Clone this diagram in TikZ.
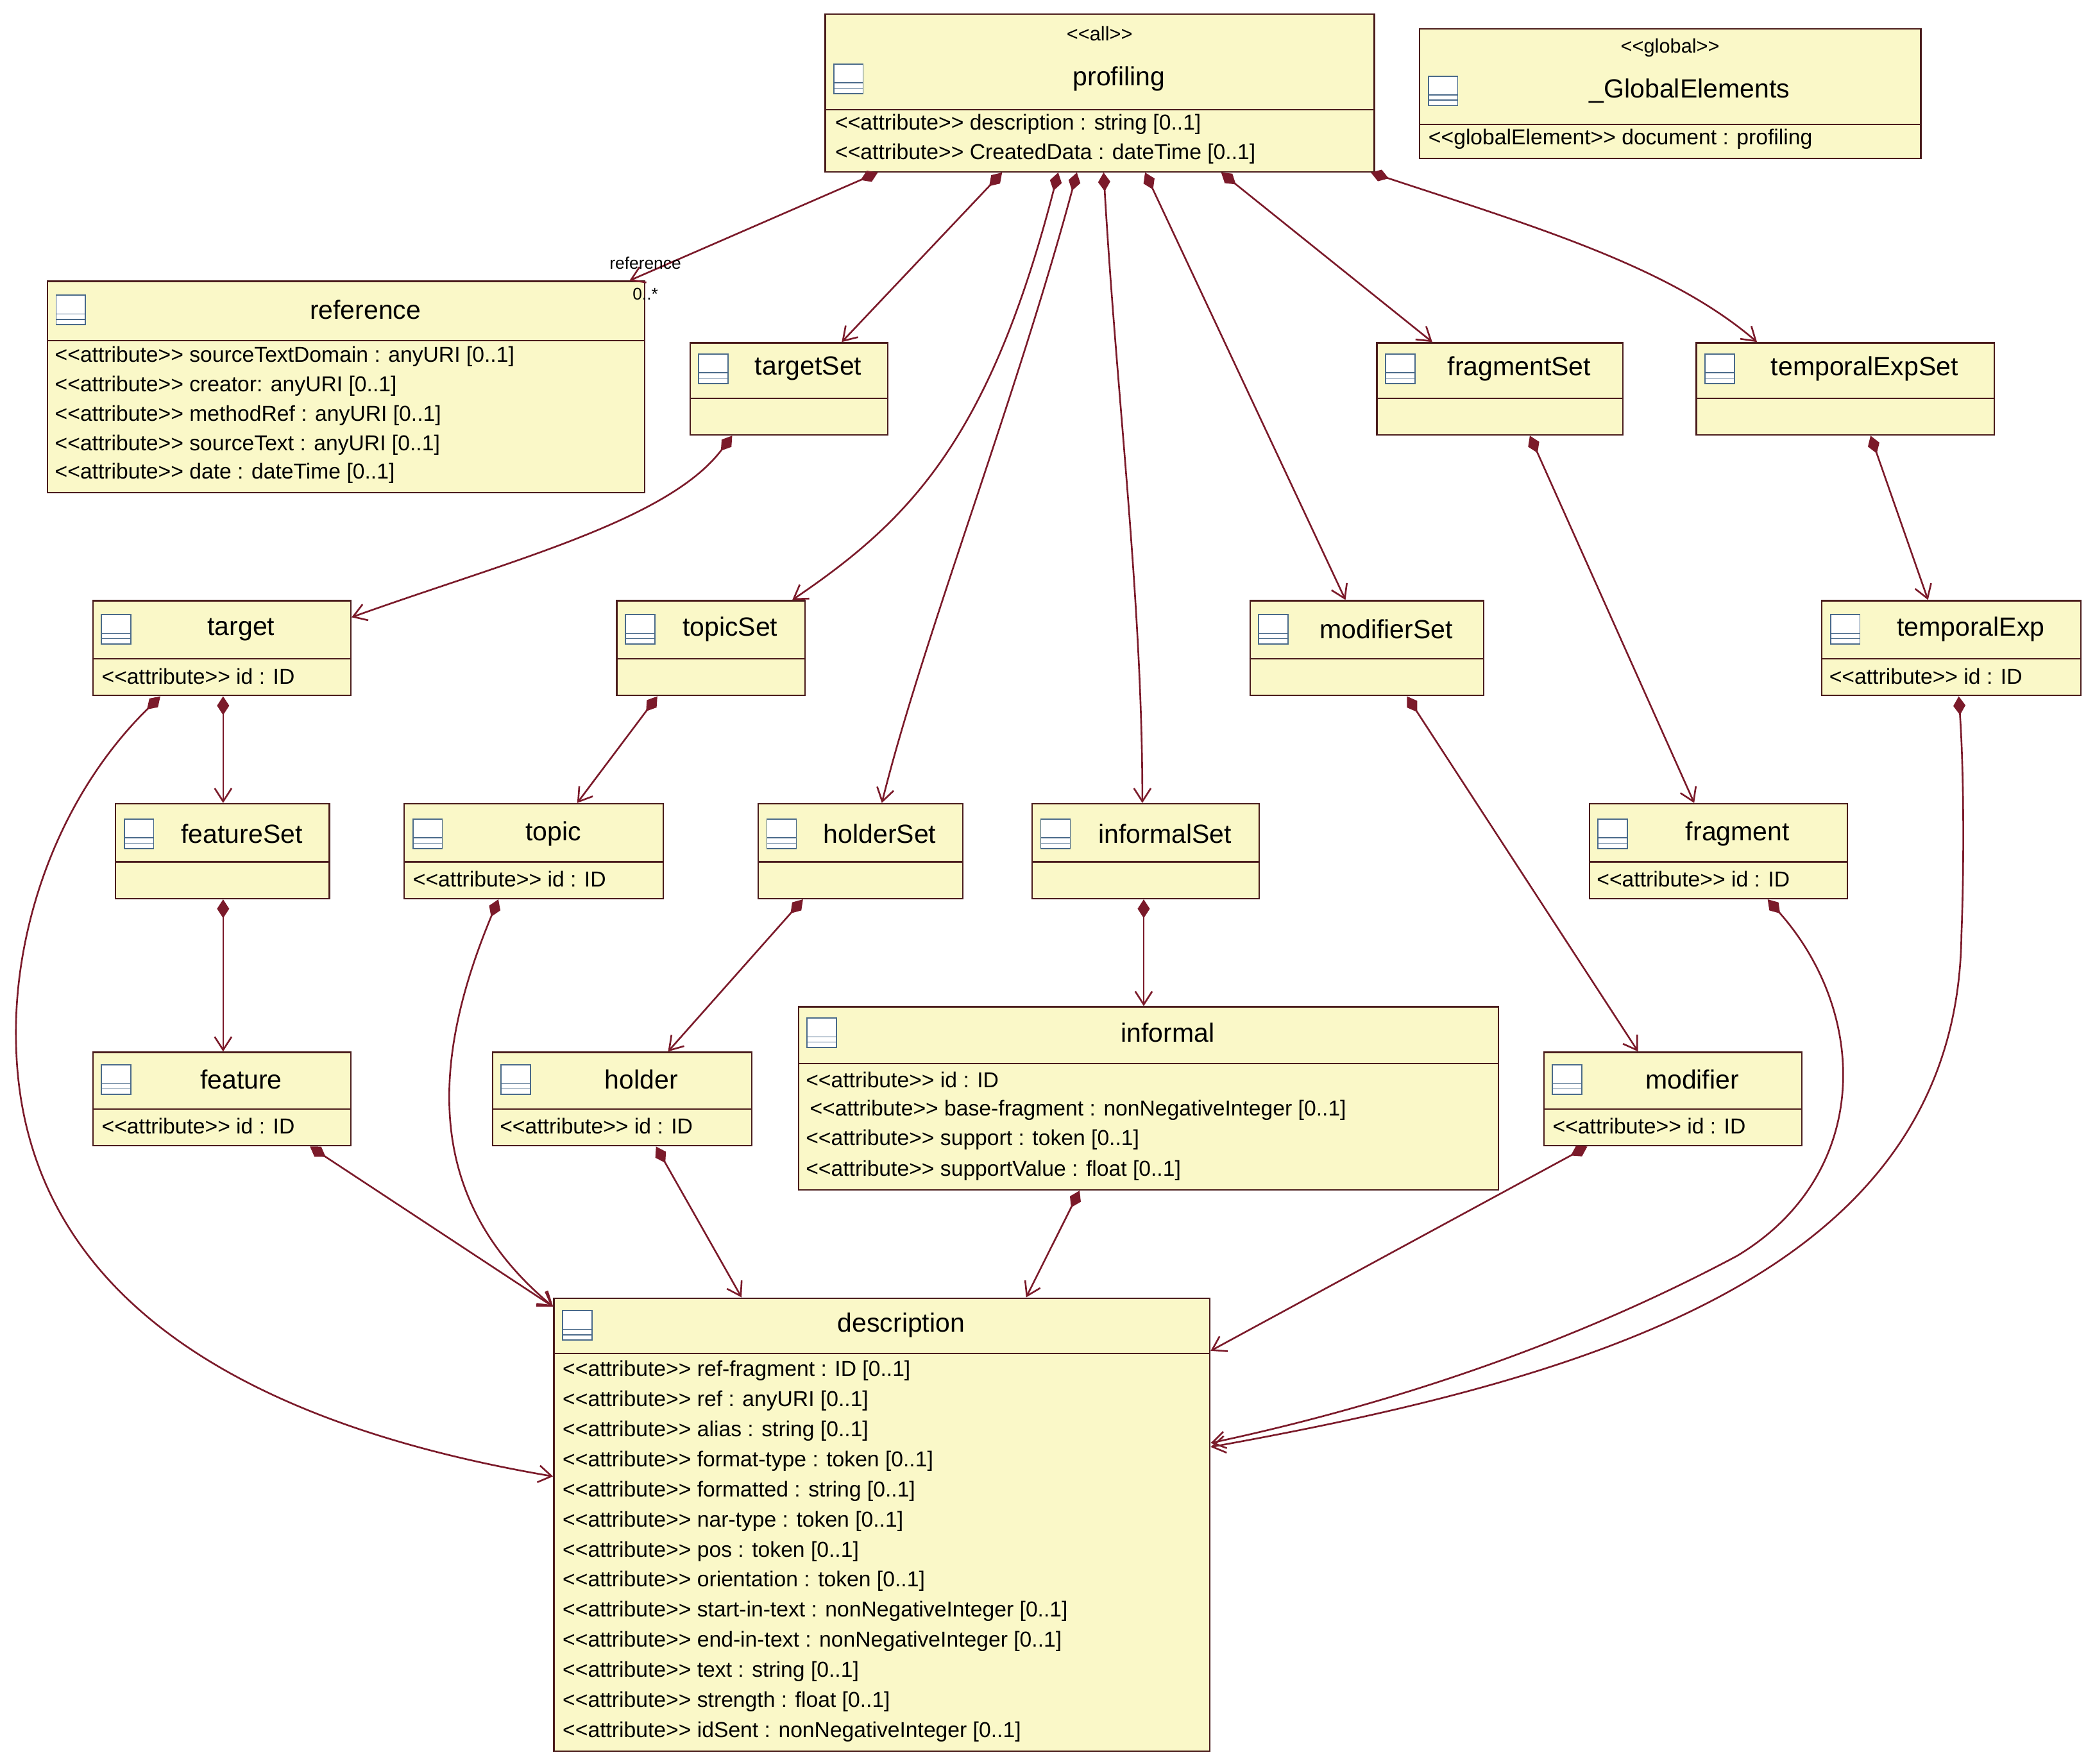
\documentclass[tikz,border=0pt]{standalone}
\usepackage{fontspec}
\setmainfont[Ligatures=NoCommon]{Liberation Sans}
\usetikzlibrary{arrows.meta,calc}
\definecolor{boxfill}{HTML}{FAF8C8}
\definecolor{boxline}{HTML}{4A1C1C}
\definecolor{conn}{HTML}{7B1A2A}
\definecolor{iconc}{HTML}{4A6A8A}
\newcommand\stl{<{}<}
\newcommand\str{>{}>}
\newcommand\atr{\stl attribute\str}
\tikzset{
 x=0.05cm,y=-0.05cm,
 box/.style={draw=boxline,fill=boxfill,line width=1.6pt,inner sep=0pt},
 sepline/.style={draw=boxline,line width=1.4pt},
 title/.style={font=\fontsize{28}{30}\selectfont,inner sep=0pt},
 stereo/.style={font=\fontsize{21}{24}\selectfont,inner sep=0pt},
 attr/.style={font=\fontsize{23}{24}\selectfont,inner sep=0pt,anchor=west},
 icon/.style={draw=iconc,fill=white,line width=1.2pt},
 comp/.style={draw=conn,line width=1.8pt,{Diamond[length=20pt,width=13pt,fill=conn]}-{Straight Barb[length=14pt,width=18pt]}},
}
\newcommand\cls[8]{%
 \node[box,minimum width={(#4-#2)*0.05cm},minimum height={(#5-#3)*0.05cm},anchor=north west] (#1) at (#2,#3) {};
 \draw[sepline] (#2,#6) -- (#4,#6);
 \node[title] (#1-t) at ({(#2+30+#4)/2},#8) {#7};
 \draw[icon] ({#2+7},{#8-11}) rectangle ({#2+29},{#8+11});
 \draw[iconc,line width=1pt] ({#2+7},{#8+3}) -- ({#2+29},{#8+3}) ({#2+7},{#8+7}) -- ({#2+29},{#8+7});
}
\begin{document}
\begin{tikzpicture}
\useasboundingbox[fill=white] (0,0) rectangle (1568,1320);
% boxes
\cls{profiling}{617}{10}{1028}{128}{82}{profiling}{59}
\node[stereo] (p-s) at (823,25) {\stl all\str};
\node[attr] (p-a1) at (625,93) {\atr\ description : string [0..1]};
\node[attr] (p-a2) at (625,115) {\atr\ CreatedData : dateTime [0..1]};
\cls{global}{1062}{21}{1437}{118}{93}{\_GlobalElements}{68}
\node[stereo] (g-s) at (1250,36) {\stl global\str};
\node[attr] (g-a1) at (1069,104) {\stl globalElement\str\ document : profiling};
\cls{reference}{35}{210}{482}{368}{255}{reference}{232}
\node[attr] (r-a1) at (41,267) {\atr\ sourceTextDomain : anyURI [0..1]};
\node[attr] (r-a2) at (41,289) {\atr\ creator: anyURI [0..1]};
\node[attr] (r-a3) at (41,311) {\atr\ methodRef : anyURI [0..1]};
\node[attr] (r-a4) at (41,333) {\atr\ sourceText : anyURI [0..1]};
\node[attr] (r-a5) at (41,354) {\atr\ date : dateTime [0..1]};
\cls{targetSet}{516}{256}{664}{325}{298}{targetSet}{276}
\cls{fragmentSet}{1030}{256}{1214}{325}{298}{fragmentSet}{276}
\cls{temporalExpSet}{1269}{256}{1492}{325}{298}{temporalExpSet}{276}
\cls{target}{69}{449}{262}{520}{493}{target}{471}
\node[attr] (t-a1) at (76,506) {\atr\ id : ID};
\cls{topicSet}{461}{449}{602}{520}{493}{topicSet}{471}
\cls{modifierSet}{935}{449}{1110}{520}{493}{modifierSet}{471}
\cls{temporalExp}{1363}{449}{1557}{520}{493}{temporalExp}{471}
\node[attr] (te-a1) at (1369,506) {\atr\ id : ID};
\cls{featureSet}{86}{601}{246}{672}{645}{featureSet}{624}
\cls{topic}{302}{601}{496}{672}{645}{topic}{624}
\node[attr] (to-a1) at (309,658) {\atr\ id : ID};
\cls{holderSet}{567}{601}{720}{672}{645}{holderSet}{624}
\cls{informalSet}{772}{601}{942}{672}{645}{informalSet}{624}
\cls{fragment}{1189}{601}{1382}{672}{645}{fragment}{624}
\node[attr] (f-a1) at (1195,658) {\atr\ id : ID};
\cls{informal}{597}{753}{1121}{890}{796}{informal}{773}
\node[attr] (i-a1) at (603,808) {\atr\ id : ID};
\node[attr] (i-a2) at (606,831) {\atr\ base-fragment : nonNegativeInteger [0..1]};
\node[attr] (i-a3) at (603,853) {\atr\ support : token [0..1]};
\node[attr] (i-a4) at (603,876) {\atr\ supportValue : float [0..1]};
\cls{feature}{69}{787}{262}{857}{830}{feature}{808}
\node[attr] (fe-a1) at (76,843) {\atr\ id : ID};
\cls{holder}{368}{787}{562}{857}{830}{holder}{808}
\node[attr] (h-a1) at (374,843) {\atr\ id : ID};
\cls{modifier}{1155}{787}{1348}{857}{830}{modifier}{808}
\node[attr] (m-a1) at (1162,843) {\atr\ id : ID};
\cls{description}{414}{971}{905}{1310}{1013}{description}{992}
\foreach \t [count=\i from 0] in {{ref-fragment : ID [0..1]},{ref : anyURI [0..1]},{alias : string [0..1]},{format-type : token [0..1]},{formatted : string [0..1]},{nar-type : token [0..1]},{pos : token [0..1]},{orientation : token [0..1]},{start-in-text : nonNegativeInteger [0..1]},{end-in-text : nonNegativeInteger [0..1]},{text : string [0..1]},{strength : float [0..1]},{idSent : nonNegativeInteger [0..1]}}
  \node[attr] (d-a\i) at (421,{1026+22.5*\i}) {\atr\ \t};
% connectors
\draw[comp] ($(profiling.south west)+(40,0)$) -- ($(reference.north east)+(-12,0)$);
\node[stereo,font=\fontsize{18}{20}\selectfont] (lab1) at (483,197) {reference};
\node[stereo,font=\fontsize{18}{20}\selectfont] (lab2) at (483,220) {0..*};
\draw[comp] ($(profiling.south west)+(133,0)$) -- ($(targetSet.north west)+(114,0)$);
\draw[comp] ($(profiling.south west)+(175,0)$) .. controls (740,330) and (680,390) .. ($(topicSet.north west)+(132,0)$);
\draw[comp] ($(profiling.south west)+(189,0)$) .. controls (760,300) and (690,480) .. ($(holderSet.north west)+(93,0)$);
\draw[comp] ($(profiling.south west)+(209,0)$) .. controls (836,300) and (855,450) .. ($(informalSet.north west)+(83,0)$);
\draw[comp] ($(profiling.south west)+(240,0)$) -- ($(modifierSet.north west)+(72,0)$);
\draw[comp] ($(profiling.south west)+(297,0)$) -- ($(fragmentSet.north west)+(42,0)$);
\draw[comp] ($(profiling.south west)+(409,0)$) .. controls (1150,170) and (1250,200) .. ($(temporalExpSet.north west)+(46,0)$);
\draw[comp] ($(targetSet.south west)+(32,0)$) .. controls (500,390) and (380,420) .. ($(target.north east)+(0,13)$);
\draw[comp] ($(fragmentSet.south west)+(115,0)$) -- ($(fragment.north west)+(79,0)$);
\draw[comp] ($(temporalExpSet.south west)+(131,0)$) -- ($(temporalExp.north west)+(80,0)$);
\draw[comp] ($(target.south west)+(98,0)$) -- ($(featureSet.north west)+(81,0)$);
\draw[comp] ($(target.south west)+(51,0)$) .. controls (40,600) and (10,700) .. (12,780) .. controls (15,950) and (150,1060) .. ($(description.north west)+(0,134)$);
\draw[comp] ($(topicSet.south west)+(31,0)$) -- ($(topic.north west)+(130,0)$);
\draw[comp] ($(featureSet.south west)+(81,0)$) -- ($(feature.north west)+(98,0)$);
\draw[comp] ($(topic.south west)+(71,0)$) .. controls (320,800) and (320,900) .. ($(description.north west)+(0,7)$);
\draw[comp] ($(holderSet.south west)+(34,0)$) -- ($(holder.north west)+(132,0)$);
\draw[comp] ($(informalSet.south west)+(84,0)$) -- ($(informal.north west)+(259,0)$);
\draw[comp] ($(modifierSet.south west)+(118,0)$) -- ($(modifier.north west)+(71,0)$);
\draw[comp] ($(fragment.south west)+(134,0)$) .. controls (1400,760) and (1400,880) .. (1300,940) .. controls (1150,1020) and (1000,1060) .. ($(description.north east)+(0,109)$);
\draw[comp] ($(temporalExp.south west)+(103,0)$) .. controls (1470,580) and (1470,650) .. (1468,700) .. controls (1465,950) and (1200,1030) .. ($(description.north east)+(0,112)$);
\draw[comp] ($(feature.south west)+(163,0)$) -- ($(description.north west)+(0,7)$);
\draw[comp] ($(holder.south west)+(123,0)$) -- ($(description.north west)+(141,0)$);
\draw[comp] ($(informal.south west)+(211,0)$) -- ($(description.north west)+(354,0)$);
\draw[comp] ($(modifier.south west)+(33,0)$) -- ($(description.north east)+(0,40)$);
\end{tikzpicture}
\end{document}
